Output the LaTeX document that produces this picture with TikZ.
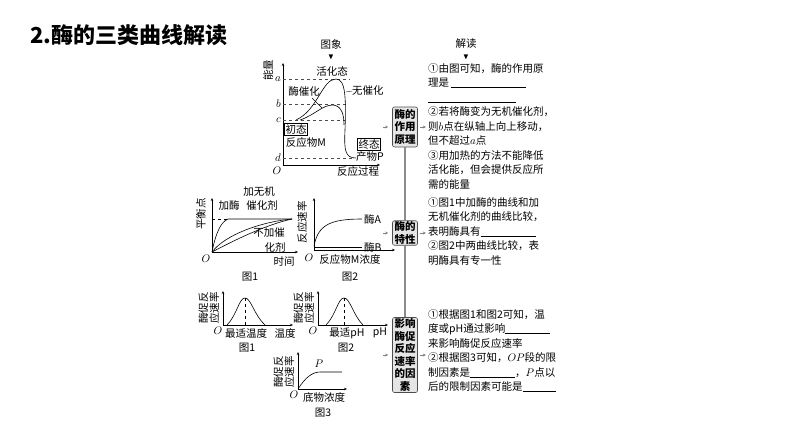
\documentclass[tikz,border=0pt]{standalone}
\usepackage{amssymb}
\usepackage{fontspec}
\setmainfont{Noto Sans CJK SC}
\usepackage{tikz}
\usetikzlibrary{arrows.meta, positioning}
\newcommand{\blank}[1]{\rule[-1pt]{#1}{0.4pt}}
\tikzset{
  axis/.style={-{Stealth[length=3pt,width=2.5pt]}, line width=0.5pt},
  lbl/.style={font=\fontsize{10.5}{11}\selectfont, inner sep=0pt},
  vlbl/.style={lbl, rotate=90, align=center},
  keybox/.style={draw=black!70, fill=black!10, rounded corners=2pt, line width=0.6pt,
    font=\fontsize{10.5}{12.5}\selectfont\bfseries, align=center, inner sep=1pt,
    minimum width=25pt},
  readtext/.style={anchor=north west, align=left, inner sep=0pt,
    font=\fontsize{10.5}{14.5}\selectfont},
  guide/.style={black!45, line width=1.2pt},
  pin/.style={-{Stealth[length=3pt,width=3pt]}, black!50, line width=0.6pt}
}
\begin{document}
\begin{tikzpicture}[x=1pt,y=-1pt]
  \useasboundingbox (0,0) rectangle (794,447);
  % --- Title ---
  \node[anchor=west, font=\fontsize{22}{24}\selectfont\bfseries, inner sep=0pt] (title) at (30,35) {2.酶的三类曲线解读};
  \node[lbl] (img) at (331,44) {图象};
  \node[lbl] (imgarrow) at (331,57) {\fontsize{8}{8}\selectfont$\blacktriangledown$};
  \node[lbl] (read) at (466,44) {解读};
  \node[lbl] (readarrow) at (466,57) {\fontsize{8}{8}\selectfont$\blacktriangledown$};

  % --- Energy curve ---
  \coordinate (eO) at (283,165);
  \draw[axis] (eO) -- (283,63);
  \draw[axis] (eO) -- (380,165);
  \node[vlbl] (eY) at (268,70) {能量};
  \node[lbl] (eX) at (358,172) {反应过程};
  \node[lbl] (eOl) at (277,171) {$O$};
  \foreach \n/\yy/\xx in {a/79/350, b/104/348, c/120/345, d/158/352}{
    \draw[dashed, black!70, line width=0.4pt] (283,\yy) -- (\xx,\yy);
    \node[lbl, anchor=east] (lev\n) at (281,\yy) {$\n$};
  }
  \draw[line width=0.6pt] (296,120) .. controls (318,110) and (322,79) .. (336,79)
    .. controls (346,79) and (346,100) .. (345,130)
    .. controls (344,150) and (345,158) .. (356,158);
  \draw[line width=0.6pt] (300,120) .. controls (315,115) and (322,105) .. (333,105)
    .. controls (342,106) and (344,115) .. (344,125);
  \node[lbl] (act) at (332,71) {活化态};
  \node[lbl, anchor=west] (nocat) at (352,91) {无催化};
  \draw[line width=0.4pt] (nocat.west) -- (346,92);
  \node[lbl] (encat) at (304,92) {酶催化};
  \draw[line width=0.4pt] (312,98) -- (322,108);
  \node[lbl, draw, inner sep=1pt] (init) at (296,129) {初态};
  \node[lbl] (reac) at (306,143) {反应物M};
  \node[lbl, draw, inner sep=1pt] (fin) at (369,144) {终态};
  \node[lbl] (prod) at (370,157) {产物P};

  % --- Key boxes ---
  \node[keybox, minimum height=40pt] (bx1) at (405,127) {酶的\\作用\\原理};
  \node[keybox, minimum height=22pt] (bx2) at (405,233) {酶的\\特性};
  \node[keybox, minimum height=75pt] (bx3) at (405,355) {影响\\酶促\\反应\\速率\\的因\\素};
  \draw[guide] (bx1.south) -- (bx2.north);
  \draw[guide] (bx2.south) -- (bx3.north);
  \foreach \b in {bx1, bx2, bx3}{
    \draw[pin] ([xshift=-9pt]\b.west) -- ([xshift=-4pt]\b.west);
    \draw[pin] ([xshift=2pt]\b.east) -- ([xshift=8pt]\b.east);
  }

  % --- Reading texts ---
  \node[readtext] (txt1) at (428,63) {①由图可知，酶的作用原\\理是\,\blank{75pt}\\\blank{88pt}\\②若将酶变为无机催化剂，\\则$b$点在纵轴上向上移动，\\但不超过$a$点\\③用加热的方法不能降低\\活化能，但会提供反应所\\需的能量};
  \node[readtext] (txt2) at (428,197) {①图1中加酶的曲线和加\\无机催化剂的曲线比较，\\表明酶具有\blank{55pt}\\②图2中两曲线比较，表\\明酶具有专一性};
  \node[readtext] (txt3) at (428,309) {①根据图1和图2可知，温\\度或pH通过影响\blank{45pt}\\来影响酶促反应速率\\②根据图3可知，$OP$段的限\\制因素是\blank{45pt}，$P$点以\\后的限制因素可能是\blank{33pt}};

  % --- Fig 1: equilibrium ---
  \coordinate (fO) at (212,252);
  \draw[axis] (fO) -- (212,198);
  \draw[axis] (fO) -- (298,252);
  \node[vlbl] (fY) at (201,214) {平衡点};
  \node[lbl] (fX) at (284,262) {时间};
  \node[lbl] (fOl) at (206,259) {$O$};
  \node[lbl] (fC) at (250,277) {图1};
  \draw[dashed, line width=0.4pt] (212,219) -- (228,219);
  \draw[line width=0.6pt] (fO) .. controls (216,232) and (221,222) .. (228,219) -- (292,219);
  \draw[line width=0.6pt] (fO) .. controls (225,235) and (260,222) .. (292,219);
  \draw[line width=0.6pt] (fO) .. controls (235,240) and (265,225) .. (292,219);
  \node[lbl] (addenz) at (229,206) {加酶};
  \node[lbl] (addinorg) at (259,192) {加无机};
  \node[lbl] (addinorg2) at (262,206) {催化剂};
  \node[lbl] (nocat2) at (269,233) {不加催};
  \node[lbl] (nocat3) at (275,247) {化剂};

  % --- Fig 2: two enzymes ---
  \coordinate (gO) at (314,250);
  \draw[axis] (gO) -- (314,198);
  \draw[axis] (gO) -- (395,250);
  \node[vlbl] (gY) at (302,222) {反应速率};
  \node[lbl] (gOl) at (309,258) {$O$};
  \node[lbl] (gX) at (350,260) {反应物M浓度};
  \node[lbl] (gC) at (350,277) {图2};
  \draw[line width=0.6pt] (314,246) .. controls (318,225) and (330,219) .. (362,219);
  \draw[line width=0.6pt] (314,247) -- (362,247);
  \node[lbl, anchor=west] (enzA) at (364,219) {酶A};
  \node[lbl, anchor=west] (enzB) at (364,247) {酶B};

  % --- Fig 1: temperature ---
  \coordinate (tO) at (223,325);
  \draw[axis] (tO) -- (223,291);
  \draw[axis] (tO) -- (293,325);
  \node[vlbl] (tY) at (209,308) {酶促反\\应速率};
  \node[lbl] (tOl) at (218,331) {$O$};
  \node[lbl] (tX1) at (246,333) {最适温度};
  \node[lbl] (tX2) at (285,333) {温度};
  \node[lbl] (tC) at (247,348) {图1};
  \draw[line width=0.6pt] (227,325) .. controls (237,315) and (239,298) .. (245,298)
    .. controls (251,298) and (254,315) .. (265,325);
  \draw[dashed, line width=0.4pt] (245,298) -- (245,325);

  % --- Fig 2: pH ---
  \coordinate (pO) at (318,325);
  \draw[axis] (pO) -- (318,291);
  \draw[axis] (pO) -- (388,325);
  \node[vlbl] (pY) at (304,308) {酶促反\\应速率};
  \node[lbl] (pOl) at (313,331) {$O$};
  \node[lbl] (pX1) at (347,333) {最适pH};
  \node[lbl] (pX2) at (380,333) {pH};
  \node[lbl] (pC) at (346,348) {图2};
  \draw[line width=0.6pt] (326,325) .. controls (336,315) and (338,298) .. (344,298)
    .. controls (350,298) and (353,315) .. (363,325);
  \draw[dashed, line width=0.4pt] (344,298) -- (344,325);

  % --- Fig 3: substrate ---
  \coordinate (sO) at (298,389);
  \draw[axis] (sO) -- (298,352);
  \draw[axis] (sO) -- (347,389);
  \node[vlbl] (sY) at (284,372) {酶促反\\应速率};
  \node[lbl] (sOl) at (294,395) {$O$};
  \node[lbl] (sX) at (324,397) {底物浓度};
  \node[lbl] (sC) at (323,413) {图3};
  \draw[line width=0.6pt] (sO) .. controls (305,378) and (312,372) .. (320,372) -- (342,372);
  \node[lbl] (sP) at (319,364) {$P$};
\end{tikzpicture}
\end{document}
